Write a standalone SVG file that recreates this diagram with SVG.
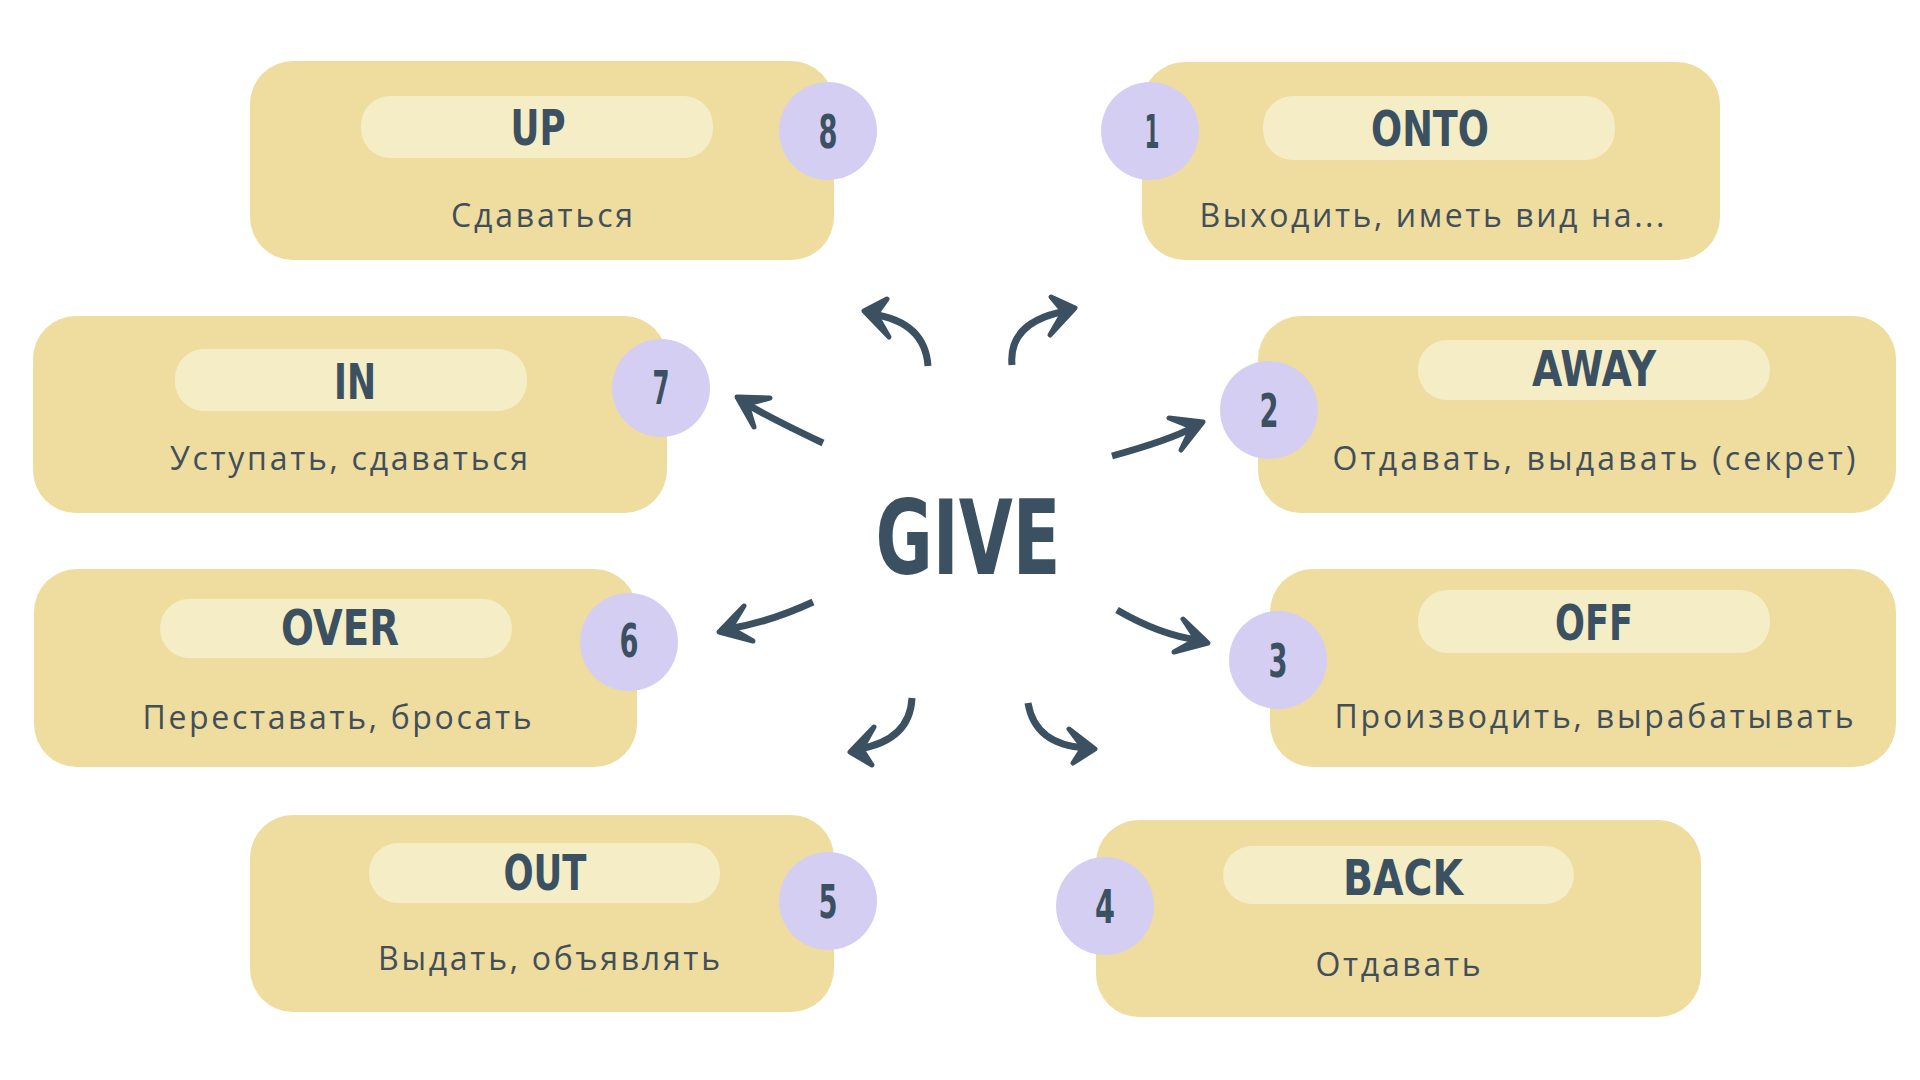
<svg xmlns="http://www.w3.org/2000/svg" width="1920" height="1080" viewBox="0 0 1920 1080">
<style>
.box{fill:#EFDC9F}
.pill{fill:#F4EDC6}
.num{fill:#D5CEF3}
.title{font-family:"DejaVu Sans",sans-serif;font-weight:bold;font-stretch:condensed;font-size:50px;fill:#3B5162;text-anchor:middle}
.digit{font-family:"DejaVu Sans",sans-serif;font-weight:bold;font-stretch:condensed;font-size:46px;fill:#3B5162;text-anchor:middle}
.desc{font-family:"Open Sans","DejaVu Sans",sans-serif;font-size:32px;fill:#414F5A;text-anchor:middle}
.give{font-family:"DejaVu Sans",sans-serif;font-weight:bold;font-stretch:condensed;font-size:104px;fill:#3B5162;text-anchor:middle}
.shaft{fill:none;stroke:#3B5162;stroke-width:7;stroke-linecap:butt}
.head{fill:#3B5162;stroke:#3B5162;stroke-width:5;stroke-linejoin:round;stroke-linecap:round}
</style>
<rect width="1920" height="1080" fill="#FFFFFF"/>

<g id="node-up">
<rect class="box" x="250" y="61" width="584" height="199" rx="43"/>
<rect class="pill" x="361" y="96" width="352" height="62" rx="29"/>
<text class="title" x="538" y="145" textLength="55" lengthAdjust="spacingAndGlyphs">UP</text>
<text class="desc" x="542" y="227" textLength="182" lengthAdjust="spacing">Сдаваться</text>
<circle class="num" cx="828" cy="131" r="49"/>
<text class="digit" x="828" y="148" textLength="19" lengthAdjust="spacingAndGlyphs">8</text>
</g>

<g id="node-onto">
<rect class="box" x="1142" y="62" width="578" height="198" rx="43"/>
<rect class="pill" x="1263" y="96" width="352" height="64" rx="30"/>
<text class="title" x="1430" y="146" textLength="118" lengthAdjust="spacingAndGlyphs">ONTO</text>
<text class="desc" x="1432" y="227" textLength="465" lengthAdjust="spacing">Выходить, иметь вид на...</text>
<circle class="num" cx="1150" cy="131" r="49"/>
<text class="digit" x="1152" y="148" textLength="15" lengthAdjust="spacingAndGlyphs">1</text>
</g>

<g id="node-in">
<rect class="box" x="33" y="316" width="634" height="197" rx="43"/>
<rect class="pill" x="175" y="349" width="352" height="62" rx="29"/>
<text class="title" x="355" y="399" textLength="42" lengthAdjust="spacingAndGlyphs">IN</text>
<text class="desc" x="349" y="470" textLength="358" lengthAdjust="spacing">Уступать, сдаваться</text>
<circle class="num" cx="661" cy="388" r="49"/>
<text class="digit" x="661" y="404" textLength="17" lengthAdjust="spacingAndGlyphs">7</text>
</g>

<g id="node-away">
<rect class="box" x="1258" y="316" width="638" height="197" rx="43"/>
<rect class="pill" x="1418" y="340" width="352" height="60" rx="29"/>
<text class="title" x="1594" y="386" textLength="124" lengthAdjust="spacingAndGlyphs">AWAY</text>
<text class="desc" x="1594" y="470" textLength="523" lengthAdjust="spacing">Отдавать, выдавать (секрет)</text>
<circle class="num" cx="1269" cy="410" r="49"/>
<text class="digit" x="1269" y="427" textLength="19" lengthAdjust="spacingAndGlyphs">2</text>
</g>

<g id="node-over">
<rect class="box" x="34" y="569" width="603" height="198" rx="43"/>
<rect class="pill" x="160" y="599" width="352" height="59" rx="29"/>
<text class="title" x="340" y="645" textLength="118" lengthAdjust="spacingAndGlyphs">OVER</text>
<text class="desc" x="337" y="729" textLength="389" lengthAdjust="spacing">Переставать, бросать</text>
<circle class="num" cx="629" cy="642" r="49"/>
<text class="digit" x="629" y="657" textLength="19" lengthAdjust="spacingAndGlyphs">6</text>
</g>

<g id="node-off">
<rect class="box" x="1270" y="569" width="626" height="198" rx="43"/>
<rect class="pill" x="1418" y="590" width="352" height="63" rx="30"/>
<text class="title" x="1594" y="640" textLength="78" lengthAdjust="spacingAndGlyphs">OFF</text>
<text class="desc" x="1594" y="728" textLength="519" lengthAdjust="spacing">Производить, вырабатывать</text>
<circle class="num" cx="1278" cy="660" r="49"/>
<text class="digit" x="1278" y="677" textLength="19" lengthAdjust="spacingAndGlyphs">3</text>
</g>

<g id="node-out">
<rect class="box" x="250" y="815" width="584" height="197" rx="43"/>
<rect class="pill" x="369" y="843" width="351" height="60" rx="29"/>
<text class="title" x="545" y="890" textLength="83" lengthAdjust="spacingAndGlyphs">OUT</text>
<text class="desc" x="549" y="970" textLength="342" lengthAdjust="spacing">Выдать, объявлять</text>
<circle class="num" cx="828" cy="901" r="49"/>
<text class="digit" x="828" y="918" textLength="19" lengthAdjust="spacingAndGlyphs">5</text>
</g>

<g id="node-back">
<rect class="box" x="1096" y="820" width="605" height="197" rx="43"/>
<rect class="pill" x="1223" y="846" width="351" height="58" rx="29"/>
<text class="title" x="1403" y="895" textLength="120" lengthAdjust="spacingAndGlyphs">BACK</text>
<text class="desc" x="1398" y="976" textLength="165" lengthAdjust="spacing">Отдавать</text>
<circle class="num" cx="1105" cy="906" r="49"/>
<text class="digit" x="1105" y="923" textLength="20" lengthAdjust="spacingAndGlyphs">4</text>
</g>

<g id="node-give">
<text class="give" x="968" y="574" textLength="185" lengthAdjust="spacingAndGlyphs">GIVE</text>
</g>

<g id="connectors">
<g id="arrow-up">
<path class="shaft" d="M928,366 Q925,322 872,314"/>
<path class="head" d="M887,299 L864,311 L889,337 L876,314.5 Z"/>
</g>
<g id="arrow-onto">
<path class="shaft" d="M1012,365 Q1008,322 1066,311"/>
<path class="head" d="M1051,297 L1075,308 L1050,335 L1063.5,311.8 Z"/>
</g>
<g id="arrow-in">
<path class="shaft" d="M823,443 Q770,418 745,403"/>
<path class="head" d="M770,398 L737,397 L754,427 L747,404 Z"/>
</g>
<g id="arrow-away">
<path class="shaft" d="M1112,456 Q1170,440 1194,427"/>
<path class="head" d="M1169,418 L1203,422 L1181,450 L1192,427.2 Z"/>
</g>
<g id="arrow-over">
<path class="shaft" d="M813,602 Q770,622 728,629"/>
<path class="head" d="M744,606 L719,632 L753,641 L730.5,628.3 Z"/>
</g>
<g id="arrow-off">
<path class="shaft" d="M1117,610 Q1160,635 1198,640"/>
<path class="head" d="M1183,619 L1208,643 L1174,652 L1196.4,639.5 Z"/>
</g>
<g id="arrow-out">
<path class="shaft" d="M912,698 Q910,740 859,749"/>
<path class="head" d="M874,727 L850,752 L872,765 L861.6,748.9 Z"/>
</g>
<g id="arrow-back">
<path class="shaft" d="M1028,703 Q1035,745 1086,748"/>
<path class="head" d="M1069,729 L1095,749 L1073,763 L1083,747.4 Z"/>
</g>
</g>
</svg>
